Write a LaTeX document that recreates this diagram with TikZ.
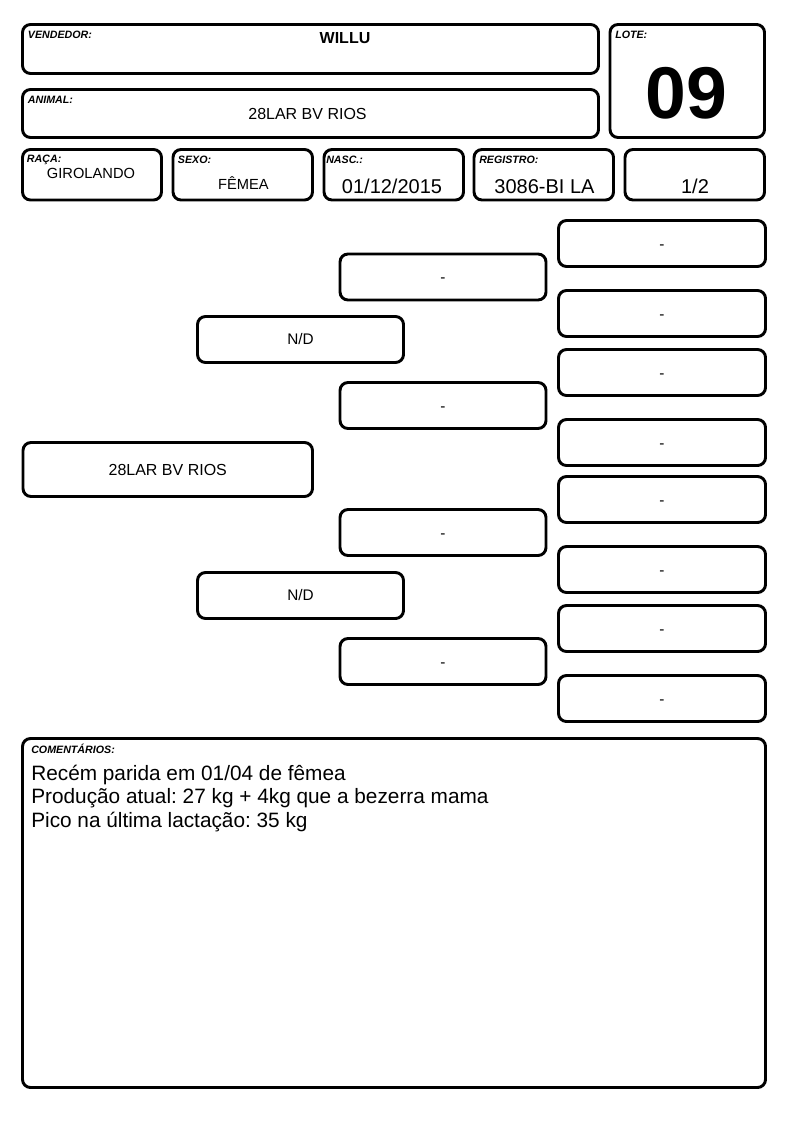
\documentclass[tikz,border=0pt]{standalone}
\usepackage{fontspec}
\setmainfont{Liberation Sans}
\frenchspacing
\usetikzlibrary{fit}

\begin{document}
\begin{tikzpicture}[x=0.75pt,y=-0.75pt]
    \tikzstyle{caixa}=[draw, line width=2.2pt, rounded corners=6pt, inner sep=0pt]
    \tikzstyle{rotulo}=[anchor=base west, inner sep=0pt, font=\fontsize{8}{8}\selectfont\bfseries\itshape]
    \tikzstyle{dado}=[anchor=base, inner sep=0pt]
    \tikzstyle{nome}=[inner sep=0pt, font=\fontsize{11.5}{11.5}\selectfont]
    \tikzstyle{vazio}=[nome, yshift=-2.4pt]
    \useasboundingbox (0,0) rectangle (794,1123);
    % cabecalho
    \node[caixa, fit={(22.5,24.5) (598.5,73.5)}] (vendedor) {};
    \node[caixa, fit={(22.5,89.5) (598.5,137.5)}] (animal) {};
    \node[caixa, fit={(610,24.5) (764.5,137.5)}] (lote) {};
    \node[caixa, fit={(22.5,149.5) (161.5,200)}] (raca) {};
    \node[caixa, fit={(173,149.5) (312.5,200)}] (sexo) {};
    \node[caixa, fit={(324,149.5) (463.5,200)}] (nasc) {};
    \node[caixa, fit={(474,149.5) (613.5,200)}] (registro) {};
    \node[caixa, fit={(625,149.5) (764.5,200)}] (fracao) {};
    \node[rotulo] (rot-vendedor) at (27.7,39) {VENDEDOR:};
    \node[rotulo] (rot-animal) at (27.7,103.3) {ANIMAL:};
    \node[rotulo] (rot-lote) at (615,39) {LOTE:};
    \node[rotulo] (rot-raca) at (26.7,162.5) {RAÇA:};
    \node[rotulo] (rot-sexo) at (177.7,164) {SEXO:};
    \node[rotulo] (rot-nasc) at (326,164) {NASC.:};
    \node[rotulo] (rot-registro) at (479,164) {REGISTRO:};
    \node[dado, font=\fontsize{12}{12}\selectfont\bfseries] (txt-vendedor) at (345,43.3) {WILLU};
    \node[dado, font=\fontsize{12}{12}\selectfont] (txt-animal) at (307.5,119.3) {28LAR BV RIOS};
    \node[dado, font=\fontsize{55}{55}\selectfont\bfseries] (txt-lote) at (686.5,118.3) {09};
    \node[dado, font=\fontsize{11}{11}\selectfont] (txt-raca) at (91,178.3) {GIROLANDO};
    \node[dado, font=\fontsize{11}{11}\selectfont] (txt-sexo) at (243.5,189.3) {FÊMEA};
    \node[dado, font=\fontsize{15}{15}\selectfont] (txt-nasc) at (392,193.3) {01/12/2015};
    \node[dado, font=\fontsize{15}{15}\selectfont] (txt-registro) at (544.5,193.3) {3086-BI LA};
    \node[dado, font=\fontsize{15}{15}\selectfont] (txt-fracao) at (695,193.3) {1/2};
    % genealogia
    \node[caixa, fit={(23,442.5) (312.5,496.5)}] (raiz) {};
    \node[nome, font=\fontsize{12}{12}\selectfont] (txt-raiz) at (raiz) {28LAR BV RIOS};
    \node[caixa, fit={(197.5,316.5) (403.5,362.5)}] (pai) {};
    \node[nome] (txt-pai) at (pai) {N/D};
    \node[caixa, fit={(197.5,572.5) (403.5,618.5)}] (mae) {};
    \node[nome] (txt-mae) at (mae) {N/D};
    \foreach \t [count=\i] in {254,382.5,509.5,638.5}{
        \node[caixa, fit={(340,\t) (546,\t+46)}] (avo\i) {};
        \node[vazio] (txt-avo\i) at (avo\i) {-};
    }
    \foreach \t [count=\i] in {220.5,290.5,349.5,419.5,476.5,546.5,605.5,675.5}{
        \node[caixa, fit={(558.5,\t) (765.5,\t+46)}] (bisavo\i) {};
        \node[vazio] (txt-bisavo\i) at (bisavo\i) {-};
    }
    % comentarios
    \node[caixa, fit={(22.5,738.5) (765.5,1087.5)}] (comentarios) {};
    \node[rotulo] (rot-comentarios) at (31,753.3) {COMENTÁRIOS:};
    \tikzstyle{obs}=[anchor=base west, inner sep=0pt, font=\fontsize{15.6}{15.6}\selectfont]
    \node[obs] (obs1) at (31,780) {Recém parida em 01/04 de fêmea};
    \node[obs] (obs2) at (31,803.7) {Produção atual: 27 kg + 4kg que a bezerra mama};
    \node[obs] (obs3) at (31,827.4) {Pico na última lactação: 35 kg};
\end{tikzpicture}
\end{document}
